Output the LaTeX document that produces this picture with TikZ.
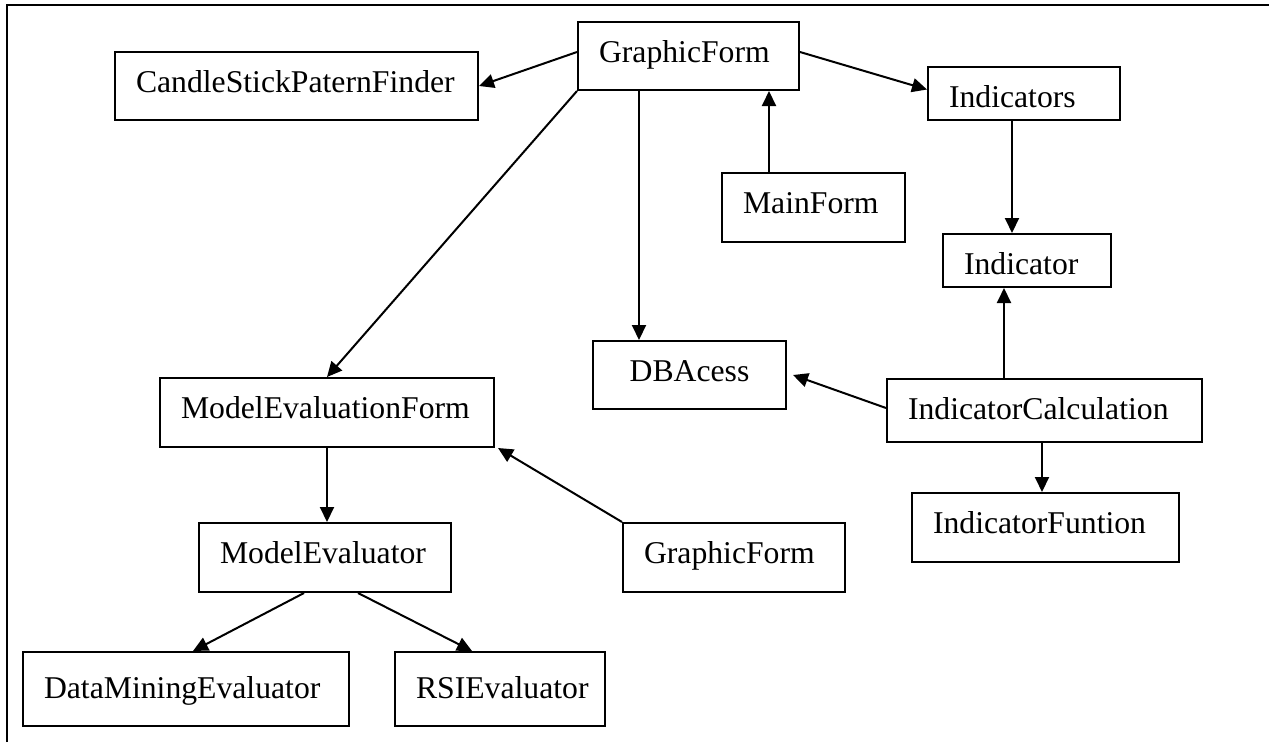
\documentclass[tikz,border=0pt]{standalone}
\usepackage{fontspec}
\setmainfont{Liberation Serif}
\usepackage{tikz}
\usetikzlibrary{arrows.meta}

\begin{document}
\begin{tikzpicture}[x=1pt, y=-1pt,
    cls/.style={draw, line width=2pt, inner xsep=21pt, inner ysep=0pt, align=left,
        text height=40pt, font=\fontsize{31.7}{38}\selectfont},
    arr/.style={line width=2pt, -{Triangle[length=15pt, width=14pt]}}]
    \useasboundingbox (0,0) rectangle (1269,742);

    \coordinate (GF) at (688.5, 56);
    \coordinate (CSPF) at (296.5, 86);
    \coordinate (Inds) at (1024, 93.5);
    \coordinate (MF) at (813.5, 207.5);
    \coordinate (Ind) at (1027, 260.5);
    \coordinate (DB) at (689.5, 375);
    \coordinate (MEF) at (327, 412.5);
    \coordinate (IC) at (1044.5, 410.5);
    \coordinate (IFn) at (1045.5, 527.5);
    \coordinate (ME) at (325, 557.5);
    \coordinate (GFb) at (734, 557.5);
    \coordinate (DME) at (186, 689);
    \coordinate (RSI) at (500, 689);

    \draw[line width=2pt] (7,742) -- (7,5) -- (1269,5);

    \node[cls, text width=179pt, text depth=28pt] (gf) at (GF) {GraphicForm};
    \node[cls, text width=321pt, text depth=28pt] (cspf) at (CSPF) {CandleStickPaternFinder};
    \node[cls, text width=150pt, text depth=13pt] (inds) at (Inds) {Indicators};
    \node[cls, text width=141pt, text depth=29pt] (mf) at (MF) {MainForm};
    \node[cls, text width=126pt, text depth=13pt] (ind) at (Ind) {Indicator};
    \node[cls, align=center, text width=151pt, text depth=28pt] (db) at (DB) {DBAcess};
    \node[cls, text width=292pt, text depth=29pt] (mef) at (MEF) {ModelEvaluationForm};
    \node[cls, text width=273pt, text depth=23pt] (ic) at (IC) {IndicatorCalculation};
    \node[cls, text width=225pt, text depth=29pt] (ifn) at (IFn) {IndicatorFuntion};
    \node[cls, text width=210pt, text depth=29pt] (me) at (ME) {ModelEvaluator};
    \node[cls, text width=180pt, text depth=29pt] (gfb) at (GFb) {GraphicForm};
    \node[cls, text width=284pt, text height=46pt, text depth=28pt] (dme) at (DME) {DataMiningEvaluator};
    \node[cls, text width=168pt, text height=46pt, text depth=28pt] (rsi) at (RSI) {RSIEvaluator};

    \draw[arr] ([yshift=4pt]gf.west) -- (cspf.east);
    \draw[arr] ([yshift=4pt]gf.east) -- ([yshift=4pt]inds.west);
    \draw[arr] (gf.south west) -- (mef.north);
    \draw[arr] ([xshift=-49.5pt]gf.south) -- ([xshift=-49.5pt]gf.south |- db.north);
    \draw[arr] ([xshift=-44.5pt]mf.north) -- ([xshift=-44.5pt]mf.north |- gf.south);

    \draw[arr] ([xshift=-12pt]inds.south) -- ([xshift=-12pt]inds.south |- ind.north);
    \draw[arr] ([xshift=-40.5pt]ic.north) -- ([xshift=-40.5pt]ic.north |- ind.south);
    \draw[arr] ([yshift=2.5pt]ic.west) -- ([xshift=6pt]db.east);
    \draw[arr] ([xshift=-2.5pt]ic.south) -- ([xshift=-2.5pt]ic.south |- ifn.north);

    \draw[arr] (mef.south) -- (mef.south |- me.north);
    \draw[arr] (gfb.north west) -- ([xshift=3pt]mef.south east);
    \draw[arr] ([xshift=-21pt]me.south) -- ([xshift=7pt]dme.north);
    \draw[arr] ([xshift=33pt]me.south) -- ([xshift=-28pt]rsi.north);

\end{tikzpicture}
\end{document}
